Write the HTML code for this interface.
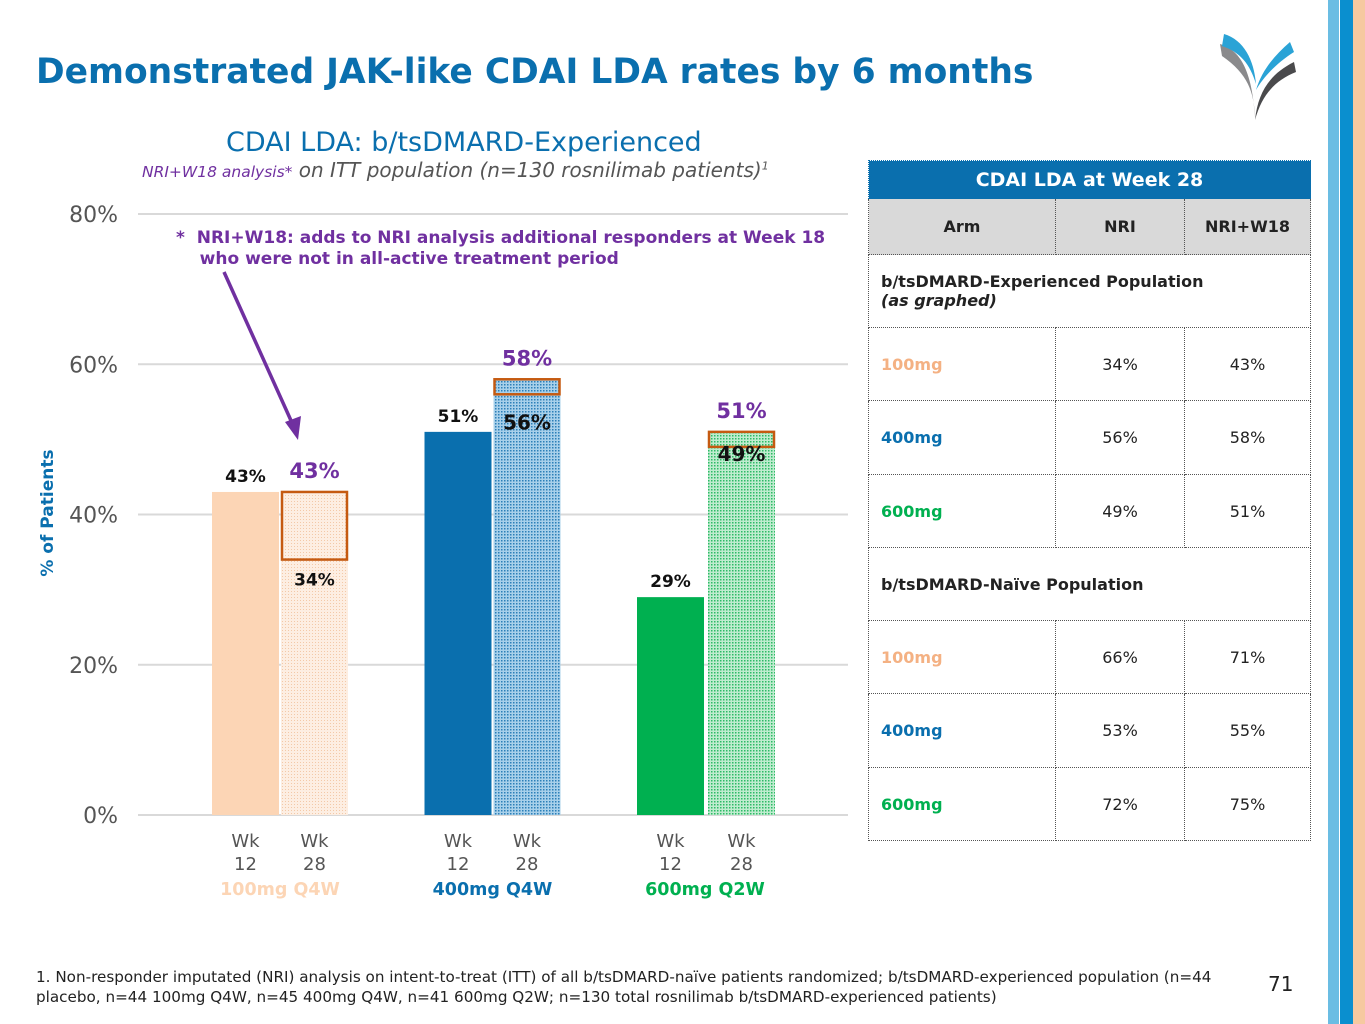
<!DOCTYPE html>
<html><head><meta charset="utf-8">
<style>
body{margin:0;width:1365px;height:1024px;position:relative;background:#fff;font-family:"DejaVu Sans","Liberation Sans",sans-serif;overflow:hidden}
.a{position:absolute;white-space:nowrap}
table{border-collapse:collapse;position:absolute;left:868px;top:160px;width:443px;font-size:16px}
td{border:1px dotted #555;padding:0 12px;color:#222}
.c{text-align:center}
</style></head><body>
<div class="a" style="left:1328px;top:0;width:11px;height:1024px;background:#6bbde3"></div>
<div class="a" style="left:1340px;top:0;width:13px;height:1024px;background:#0a8fcf"></div>
<div class="a" style="left:1353px;top:0;width:12px;height:1024px;background:#f6c9a0"></div>
<svg class="a" style="left:1218px;top:22px" width="80" height="100" viewBox="0 0 80 100">
<path d="M2 22 C22 28 34 48 37 95 C36 70 30 52 4 34Z" fill="#8a8a8c"/>
<path d="M6 12 C26 18 36 38 38 62 C32 42 22 30 4 24Z" fill="#2aa3d6"/>
<path d="M37 98 C40 70 52 52 76 40 L78 50 C58 58 44 72 37 98Z" fill="#4a4a4c"/>
<path d="M38 68 C44 48 56 34 72 20 L76 30 C60 40 46 54 38 68Z" fill="#2aa3d6"/>
</svg>
<div class="a" style="left:36px;top:52px;font-size:34.5px;font-weight:bold;color:#0a6fae">Demonstrated JAK-like CDAI LDA rates by 6 months</div>
<div class="a" style="left:226px;top:127px;font-size:27px;color:#0a6fae">CDAI LDA: b/tsDMARD-Experienced</div>
<div class="a" style="left:142px;top:158px;font-size:20px;font-style:italic;color:#555"><span style="color:#7030a0;font-size:15.5px">NRI+W18 analysis*</span> on ITT population (n=130 rosnilimab patients)<sup style="font-size:11px">1</sup></div>
<svg class="a" id="chart" style="left:0;top:0" width="860" height="920">
<defs>
<pattern id="pPeach" width="3" height="3" patternUnits="userSpaceOnUse"><rect width="3" height="3" fill="#fdeee2"/><rect width="1" height="1" fill="#f3c9a8"/></pattern>
<pattern id="pBlue" width="3" height="3" patternUnits="userSpaceOnUse"><rect width="3" height="3" fill="#a8d0ea"/><rect width="1.5" height="1.5" fill="#2c7fb8"/></pattern>
<pattern id="pGreen" width="3" height="3" patternUnits="userSpaceOnUse"><rect width="3" height="3" fill="#bfeccf"/><rect width="1.5" height="1.5" fill="#2dba66"/></pattern>
</defs>
<g id="g"></g>
</svg>
<div class="a" style="left:-32px;top:503px;transform:rotate(-90deg);font-size:17px;font-weight:bold;color:#0a6fae;width:160px;text-align:center">% of Patients</div>
<div class="a" style="left:176px;top:228px;font-size:17px;font-weight:bold;color:#7030a0;line-height:21px">*&nbsp; NRI+W18: adds to NRI analysis additional responders at Week 18<br>&nbsp;&nbsp;&nbsp;&nbsp;who were not in all-active treatment period</div>
<table>
<tr style="height:38px;background:#0a6fae"><td colspan="3" class="c" style="color:#fff;font-weight:bold;font-size:19px;border-color:#0a6fae">CDAI LDA at Week 28</td></tr>
<tr style="height:56px;background:#d9d9d9;font-weight:bold"><td class="c" style="width:162px">Arm</td><td class="c" style="width:104px">NRI</td><td class="c">NRI+W18</td></tr>
<tr style="height:73px"><td colspan="3" style="font-weight:bold">b/tsDMARD-Experienced Population<br><i>(as graphed)</i></td></tr>
<tr style="height:73px"><td style="color:#f4b183;font-weight:bold">100mg</td><td class="c">34%</td><td class="c">43%</td></tr>
<tr style="height:74px"><td style="color:#0a6fae;font-weight:bold">400mg</td><td class="c">56%</td><td class="c">58%</td></tr>
<tr style="height:73px"><td style="color:#00b050;font-weight:bold">600mg</td><td class="c">49%</td><td class="c">51%</td></tr>
<tr style="height:73px"><td colspan="3" style="font-weight:bold">b/tsDMARD-Naïve Population</td></tr>
<tr style="height:73px"><td style="color:#f4b183;font-weight:bold">100mg</td><td class="c">66%</td><td class="c">71%</td></tr>
<tr style="height:74px"><td style="color:#0a6fae;font-weight:bold">400mg</td><td class="c">53%</td><td class="c">55%</td></tr>
<tr style="height:73px"><td style="color:#00b050;font-weight:bold">600mg</td><td class="c">72%</td><td class="c">75%</td></tr>
</table>
<div class="a" style="left:36px;top:967px;font-size:15.2px;color:#222;line-height:20px">1. Non-responder imputated (NRI) analysis on intent-to-treat (ITT) of all b/tsDMARD-naïve patients randomized; b/tsDMARD-experienced population (n=44<br>placebo, n=44 100mg Q4W, n=45 400mg Q4W, n=41 600mg Q2W; n=130 total rosnilimab b/tsDMARD-experienced patients)</div>
<div class="a" style="left:1268px;top:972px;font-size:20px;color:#222">71</div>
<script>
const groups=["100mg Q4W","400mg Q4W","600mg Q2W"];
const wk12=[43,51,29];
const wk28nri=[34,56,49];
const wk28w18=[43,58,51];
const yTicks=[0,20,40,60,80];
const solid=["#fcd5b5","#0a6fae","#00b050"];
const pats=["url(#pPeach)","url(#pBlue)","url(#pGreen)"];
const labelCol=["#fcd5b5","#0a6fae","#00b050"];
const nriLabelOffset=[26,35,14];
const NS="http://www.w3.org/2000/svg";
const g=document.getElementById('g');
const y=v=>815-v*7.5125;
const gx=i=>212+i*212.5;
function el(t,a,txt){const e=document.createElementNS(NS,t);for(const k in a)e.setAttribute(k,a[k]);if(txt!==undefined)e.textContent=txt;g.appendChild(e);return e;}
yTicks.forEach(t=>{
 const l=el('line',{x1:138,x2:848,y1:y(t),y2:y(t),stroke:'#d9d9d9','stroke-width':2});
 
 
 const tx=el('text',{x:118,y:y(t)+8,'text-anchor':'end','font-size':22,fill:'#555'},t+'%');
 
 
});
groups.forEach((name,i)=>{
 const x0=gx(i),x1=x0+69+(i==2?2:0),w=67;
 const b1=el('rect',{x:x0,y:y(wk12[i]),width:w,height:y(0)-y(wk12[i]),fill:solid[i]});
 
 
 const b2=el('rect',{x:x1,y:y(wk28w18[i]),width:w,height:y(0)-y(wk28w18[i]),fill:pats[i]});
 
 
 const bx=el('rect',{x:x1+1,y:y(wk28w18[i]),width:w-2,height:y(wk28nri[i])-y(wk28w18[i]),fill:'none',stroke:'#c55a11','stroke-width':2.5});
 
 
 const l1=el('text',{x:x0+w/2,y:y(wk12[i])-10,'text-anchor':'middle','font-size':17,'font-weight':'bold',fill:'#111'},wk12[i]+'%');
 
 
 const l2=el('text',{x:x1+w/2,y:y(wk28w18[i])-14,'text-anchor':'middle','font-size':21,'font-weight':'bold',fill:'#7030a0'},wk28w18[i]+'%');
 
 
 const l3=el('text',{x:x1+w/2,y:y(wk28nri[i])+nriLabelOffset[i],'text-anchor':'middle','font-size':i==0?17:20,'font-weight':'bold',fill:'#111'},wk28nri[i]+'%');
 
 
 [[x0,'Wk','12'],[x1,'Wk','28']].forEach(([xx,a,b],j)=>{
  const t=el('text',{x:xx+w/2,y:847,'text-anchor':'middle','font-size':18,fill:'#555'},a);
  
  
  const t2=el('text',{x:xx+w/2,y:870,'text-anchor':'middle','font-size':18,fill:'#555'},b);
  
  
 });
 const gl=el('text',{x:x0+68,y:895,'text-anchor':'middle','font-size':17.5,'font-weight':'bold',fill:labelCol[i]},name);
 
 
});
const ar=el('line',{x1:224,y1:272,x2:293,y2:425,stroke:'#7030a0','stroke-width':3.5});


const ah=el('polygon',{points:'298,440 285,422 301,416',fill:'#7030a0'});


</script>
</body></html>
